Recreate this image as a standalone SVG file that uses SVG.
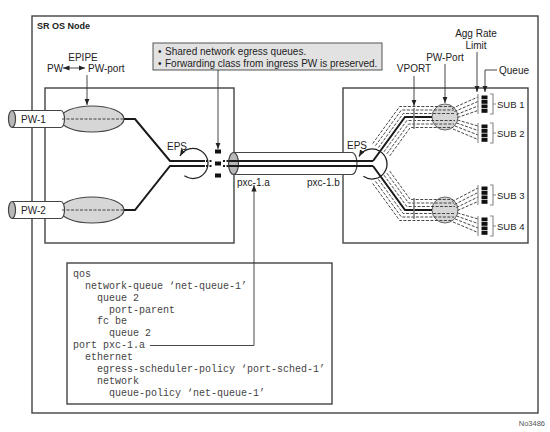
<svg xmlns="http://www.w3.org/2000/svg" width="550" height="432" viewBox="0 0 550 432">
<style>
.box{fill:none;stroke:#444;stroke-width:1.4}
.lbl{font-family:"Liberation Sans",Arial,sans-serif;font-size:10px;fill:#222}
.code{font-family:"Liberation Mono","Courier New",monospace;font-size:10px;fill:#444}
.blk{fill:none;stroke:#1a1a1a;stroke-width:2}
.dsh{fill:none;stroke:#333;stroke-width:0.9;stroke-dasharray:3 1.5}
.arr{fill:none;stroke:#333;stroke-width:0.9}
.tube{fill:#fff;stroke:#444;stroke-width:1.2}
.gry{fill:#d6d6d6;stroke:#444;stroke-width:1.2}
.cap{fill:#b8b8b8;stroke:#444;stroke-width:1.2}
.brk{fill:none;stroke:#888;stroke-width:1.1}
.sq{fill:#111}
</style>
<defs>
<marker id="ah" viewBox="0 0 10 8" refX="10" refY="4" markerWidth="6.5" markerHeight="5.2" markerUnits="userSpaceOnUse" orient="auto-start-reverse">
<path d="M0,0 L10,4 L0,8 z" fill="#222"/>
</marker>
</defs>
<rect width="550" height="432" fill="#fff"/>

<g id="sr-os-node">
<rect x="32" y="16" width="506" height="397" class="box"/>
<text x="37" y="29" class="lbl" style="font-weight:bold;font-size:9px">SR OS Node</text>
</g>
<g id="left-box"><rect x="45" y="88" width="189" height="155" class="box"/></g>
<g id="right-box"><rect x="343" y="88" width="185" height="155" class="box"/></g>

<g id="pw-1">
<ellipse cx="92" cy="119" rx="32" ry="13" class="gry"/>
<path d="M12,110.5 H61 A3.5,8.5 0 0 1 61,127.5 H12 z" class="tube"/>
<ellipse cx="12" cy="119" rx="3.5" ry="8.5" class="cap"/>
<text x="21" y="123" class="lbl">PW-1</text>
</g>
<g id="pw-2">
<ellipse cx="92" cy="210" rx="32" ry="13" class="gry"/>
<path d="M12,201.5 H61 A3.5,8.5 0 0 1 61,218.5 H12 z" class="tube"/>
<ellipse cx="12" cy="210" rx="3.5" ry="8.5" class="cap"/>
<text x="21" y="214" class="lbl">PW-2</text>
</g>

<g id="callout">
<rect x="153" y="43" width="229" height="27" fill="#e2e2e2" stroke="#555" stroke-width="1"/>
<text x="158" y="55" class="lbl">•<tspan x="165">Shared network egress queues.</tspan></text>
<text x="158" y="67" class="lbl">•<tspan x="165">Forwarding class from ingress PW is preserved.</tspan></text>
</g>

<g id="code-box">
<rect x="67" y="263" width="265" height="141" class="box"/>
<text class="code">
<tspan x="73" y="277">qos</tspan>
<tspan x="85" y="288.9">network-queue ‘net-queue-1’</tspan>
<tspan x="97" y="300.7">queue 2</tspan>
<tspan x="109" y="312.6">port-parent</tspan>
<tspan x="97" y="324.4">fc be</tspan>
<tspan x="109" y="336.3">queue 2</tspan>
<tspan x="73" y="348.1">port pxc-1.a</tspan>
<tspan x="85" y="360">ethernet</tspan>
<tspan x="97" y="371.8">egress-scheduler-policy ‘port-sched-1’</tspan>
<tspan x="97" y="383.7">network</tspan>
<tspan x="109" y="395.5">queue-policy ‘net-queue-1’</tspan>
</text>
</g>

<g id="pxc-tube">
<path d="M233.5,152.5 H352 A5,11 0 0 1 352,174.5 H233.5 z" class="tube"/>
<ellipse cx="233.5" cy="163.5" rx="5" ry="11" class="cap"/>
<text x="237" y="186" class="lbl">pxc-1.a</text>
<text x="307" y="186" class="lbl">pxc-1.b</text>
</g>

<g id="pw-port-upper"><circle cx="445" cy="117" r="13" fill="#d6d6d6" stroke="#666" stroke-width="1"/></g>
<g id="pw-port-lower"><circle cx="445" cy="210" r="13" fill="#d6d6d6" stroke="#666" stroke-width="1"/></g>

<g id="connectors">
<line x1="62" y1="119" x2="123" y2="119" class="dsh" stroke="#555"/>
<line x1="62" y1="210" x2="123" y2="210" class="dsh" stroke="#555"/>
<path d="M124,119 H135 L170,161 H205" class="blk"/>
<path d="M124,210 H135 L170,166 H205" class="blk"/>
<path d="M206,161 H213 M206,166 H213 M223,161 H229 M223,166 H229" fill="none" stroke="#1a1a1a" stroke-width="2" stroke-dasharray="2 1.5"/>
<path d="M229,161 H373 M229,166 H373" class="blk"/>
<path d="M373,161 L405,117 H432" class="blk"/>
<path d="M373,166 L405,210 H432" class="blk"/>
<g id="bundle-upper">
<path d="M372.7,143.5 L399.7,106.5 H453" class="dsh"/>
<path d="M375.5,145.6 L401.4,110 H454" class="dsh"/>
<path d="M378.4,147.6 L403.2,113.5 H455" class="dsh"/>
<path d="M384,151.8 L406.8,120.5 H455" class="dsh"/>
<path d="M386.9,153.8 L408.6,124 H454" class="dsh"/>
<path d="M389.7,155.9 L410.3,127.5 H453" class="dsh"/>
</g>
<g id="bundle-lower" transform="matrix(1 0 0 -1 0 327)">
<path d="M372.7,143.5 L399.7,106.5 H453" class="dsh"/>
<path d="M375.5,145.6 L401.4,110 H454" class="dsh"/>
<path d="M378.4,147.6 L403.2,113.5 H455" class="dsh"/>
<path d="M384,151.8 L406.8,120.5 H455" class="dsh"/>
<path d="M386.9,153.8 L408.6,124 H454" class="dsh"/>
<path d="M389.7,155.9 L410.3,127.5 H453" class="dsh"/>
</g>
<line x1="414" y1="108" x2="414" y2="129" stroke="#777" stroke-width="1.5"/>
<line x1="414" y1="198" x2="414" y2="219" stroke="#777" stroke-width="1.5"/>
<path d="M452,108.5 L478,97 M454.5,111.5 L478,101.5 M456.5,114.5 L478,106 M457.5,117.5 L478,110.5" class="dsh"/>
<path d="M457.5,120 L478,126 M456.5,123 L478,130.5 M455,126 L478,135 M453,129 L478,139.5" class="dsh"/>
<path d="M452,201.5 L478,188 M454.5,204.5 L478,192.5 M456.5,207.5 L478,197 M457.5,210.5 L478,201.5" class="dsh"/>
<path d="M457.5,213 L478,219 M456.5,216 L478,223.5 M455,219 L478,228 M453,222 L478,232.5" class="dsh"/>
<line x1="63" y1="68" x2="85" y2="68" class="arr" marker-start="url(#ah)" marker-end="url(#ah)"/>
<line x1="87" y1="75" x2="87" y2="105" class="arr" marker-end="url(#ah)"/>
<line x1="218" y1="70" x2="218" y2="149" class="arr" marker-end="url(#ah)"/>
<path d="M150,345.5 H254 V185" class="arr" marker-end="url(#ah)"/>
<line x1="414" y1="76" x2="414" y2="106" class="arr" marker-end="url(#ah)"/>
<line x1="445" y1="64" x2="445" y2="103" class="arr" marker-end="url(#ah)"/>
<line x1="477" y1="52" x2="477" y2="92" class="arr" marker-end="url(#ah)"/>
<path d="M497,70 H485 V92" class="arr" marker-end="url(#ah)"/>
</g>

<g id="eps-left">
<path d="M184.4,175.8 A15,15 0 1 0 180,156" fill="none" stroke="#222" stroke-width="1.3" marker-end="url(#ah)"/>
<text x="167" y="150" class="lbl">EPS</text>
</g>
<g id="queues-left">
<rect x="215" y="149.5" width="6" height="4" class="sq"/>
<rect x="215" y="161.5" width="6" height="4" class="sq"/>
<rect x="215" y="173.5" width="6" height="4" class="sq"/>
</g>
<g id="eps-right">
<path d="M363.4,176.3 A15,15 0 1 0 359,156.5" fill="none" stroke="#222" stroke-width="1.3" marker-end="url(#ah)"/>
<text x="347" y="149" class="lbl">EPS</text>
</g>

<g id="sub-1" transform="translate(0,95)">
<line x1="478" y1="-1" x2="478" y2="19" class="brk"/>
<rect x="481.5" y="0.5" width="6" height="3.8" class="sq"/><rect x="481.5" y="5" width="6" height="3.8" class="sq"/><rect x="481.5" y="9.5" width="6" height="3.8" class="sq"/><rect x="481.5" y="14" width="6" height="3.8" class="sq"/>
<path d="M490,-1 H493 V19 H490 M493,9 H496" class="brk"/>
<text x="497" y="12.5" class="lbl" style="font-size:9.5px">SUB 1</text>
</g>
<g id="sub-2" transform="translate(0,124)">
<line x1="478" y1="-1" x2="478" y2="19" class="brk"/>
<rect x="481.5" y="0.5" width="6" height="3.8" class="sq"/><rect x="481.5" y="5" width="6" height="3.8" class="sq"/><rect x="481.5" y="9.5" width="6" height="3.8" class="sq"/><rect x="481.5" y="14" width="6" height="3.8" class="sq"/>
<path d="M490,-1 H493 V19 H490 M493,9 H496" class="brk"/>
<text x="497" y="12.5" class="lbl" style="font-size:9.5px">SUB 2</text>
</g>
<g id="sub-3" transform="translate(0,186)">
<line x1="478" y1="-1" x2="478" y2="19" class="brk"/>
<rect x="481.5" y="0.5" width="6" height="3.8" class="sq"/><rect x="481.5" y="5" width="6" height="3.8" class="sq"/><rect x="481.5" y="9.5" width="6" height="3.8" class="sq"/><rect x="481.5" y="14" width="6" height="3.8" class="sq"/>
<path d="M490,-1 H493 V19 H490 M493,9 H496" class="brk"/>
<text x="497" y="12.5" class="lbl" style="font-size:9.5px">SUB 3</text>
</g>
<g id="sub-4" transform="translate(0,217)">
<line x1="478" y1="-1" x2="478" y2="19" class="brk"/>
<rect x="481.5" y="0.5" width="6" height="3.8" class="sq"/><rect x="481.5" y="5" width="6" height="3.8" class="sq"/><rect x="481.5" y="9.5" width="6" height="3.8" class="sq"/><rect x="481.5" y="14" width="6" height="3.8" class="sq"/>
<path d="M490,-1 H493 V19 H490 M493,9 H496" class="brk"/>
<text x="497" y="12.5" class="lbl" style="font-size:9.5px">SUB 4</text>
</g>

<g id="labels">
<text x="83" y="61" class="lbl" text-anchor="middle">EPIPE</text>
<text x="47" y="72" class="lbl">PW</text>
<text x="88" y="72" class="lbl">PW-port</text>
<text x="476" y="37" class="lbl" text-anchor="middle">Agg Rate</text>
<text x="476" y="49" class="lbl" text-anchor="middle">Limit</text>
<text x="445" y="61" class="lbl" text-anchor="middle">PW-Port</text>
<text x="414" y="72" class="lbl" text-anchor="middle">VPORT</text>
<text x="499" y="74" class="lbl">Queue</text>
<text x="545" y="426" class="lbl" text-anchor="end" style="font-size:7.5px;fill:#555">No3486</text>
</g>
</svg>
